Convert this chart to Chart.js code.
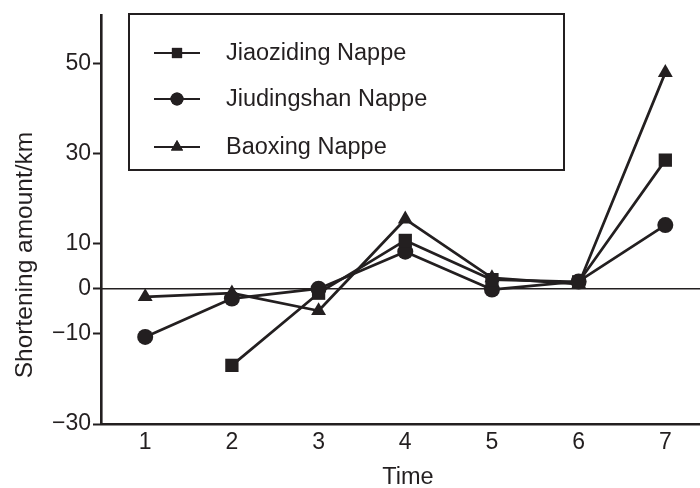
<!DOCTYPE html>
<html>
<head>
<meta charset="utf-8">
<script src="https://cdn.jsdelivr.net/npm/chart.js@4.4.1/dist/chart.umd.min.js"></script>
<style>
  html, body { margin: 0; padding: 0; background: #fff; overflow: hidden; }
  canvas { display: block; }
</style>
</head>
<body>
<canvas id="c" width="700" height="488"></canvas>
<script>
const times = [1, 2, 3, 4, 5, 6, 7];
const jiaozidingLabel = 'Jiaoziding Nappe';
const jiaozidingValues = [null, -17, -1, 10.7, 2, 1.5, 28.5];
const jiudingshanLabel = 'Jiudingshan Nappe';
const jiudingshanValues = [-10.7, -2.2, 0, 8.2, -0.2, 1.6, 14.1];
const baoxingLabel = 'Baoxing Nappe';
const baoxingValues = [-1.8, -1, -4.9, 15.4, 2.4, 1, 47.9];
const yTickValues = [-30, -10, 0, 10, 30, 50];
const xTickValues = [1, 2, 3, 4, 5, 6, 7];
const xTitle = 'Time';
const yTitle = 'Shortening amount/km';

const INK = '#231f20';
const FONT = "'Liberation Sans', Arial, sans-serif";

function pts(vals) {
  return times.map((t, i) => ({ x: t, y: vals[i] })).filter(p => p.y !== null);
}

const series = [
  { label: jiaozidingLabel, data: pts(jiaozidingValues), pointStyle: 'rect', pointRadius: 9.4, legendRadius: 7.2 },
  { label: jiudingshanLabel, data: pts(jiudingshanValues), pointStyle: 'circle', pointRadius: 8, legendRadius: 6.5 },
  { label: baoxingLabel, data: pts(baoxingValues), pointStyle: 'triangle', pointRadius: 8.6, legendRadius: 7 }
];

const zeroLine = {
  id: 'zeroLine',
  beforeDatasetsDraw(chart) {
    const { ctx, chartArea, scales } = chart;
    const y = scales.y.getPixelForValue(0);
    ctx.save();
    ctx.strokeStyle = INK;
    ctx.lineWidth = 1.6;
    ctx.beginPath();
    ctx.moveTo(chartArea.left, y);
    ctx.lineTo(chartArea.right, y);
    ctx.stroke();
    ctx.restore();
  }
};

const titles = {
  id: 'titles',
  afterDraw(chart) {
    const { ctx } = chart;
    ctx.save();
    ctx.fillStyle = INK;
    ctx.textAlign = 'center';
    ctx.textBaseline = 'middle';
    ctx.font = '24.5px ' + FONT;
    ctx.translate(25, 255);
    ctx.rotate(-Math.PI / 2);
    ctx.fillText(yTitle, 0, 0);
    ctx.restore();
    ctx.save();
    ctx.fillStyle = INK;
    ctx.textAlign = 'center';
    ctx.textBaseline = 'middle';
    ctx.font = '23.5px ' + FONT;
    ctx.fillText(xTitle, 408, 478);
    ctx.restore();
  }
};

const boxLegend = {
  id: 'boxLegend',
  afterDraw(chart) {
    const { ctx } = chart;
    const bx = 129, by = 14, bw = 435, bh = 156;
    ctx.save();
    ctx.fillStyle = '#fff';
    ctx.fillRect(bx, by, bw, bh);
    ctx.strokeStyle = INK;
    ctx.lineWidth = 2;
    ctx.strokeRect(bx, by, bw, bh);
    const rows = [53, 99, 147];
    series.forEach((s, i) => {
      const y = rows[i];
      ctx.strokeStyle = INK;
      ctx.lineWidth = 2.2;
      ctx.beginPath();
      ctx.moveTo(154, y);
      ctx.lineTo(200, y);
      ctx.stroke();
      ctx.fillStyle = INK;
      Chart.helpers.drawPoint(ctx, { pointStyle: s.pointStyle, radius: s.legendRadius, rotation: 0, borderWidth: 0 }, 177, y);
      ctx.fill();
      ctx.fillStyle = INK;
      ctx.font = '23.5px ' + FONT;
      ctx.textBaseline = 'middle';
      ctx.textAlign = 'left';
      ctx.fillText(s.label, 226, y + 1);
    });
    ctx.restore();
  }
};

new Chart(document.getElementById('c'), {
  type: 'line',
  data: {
    datasets: series.map(s => ({
      label: s.label,
      data: s.data,
      borderColor: INK,
      backgroundColor: INK,
      borderWidth: 2.7,
      pointStyle: s.pointStyle,
      pointRadius: s.pointRadius,
      pointHoverRadius: s.pointRadius,
      pointBorderWidth: 0,
      pointBackgroundColor: INK,
      tension: 0,
      clip: false
    }))
  },
  options: {
    responsive: false,
    animation: false,
    layout: { autoPadding: false, padding: { top: 14, right: 0, left: 0, bottom: 0 } },
    plugins: { legend: { display: false }, tooltip: { enabled: false } },
    elements: { line: { borderCapStyle: 'round', borderJoinStyle: 'round' } },
    scales: {
      x: {
        type: 'linear',
        min: 0.49,
        max: 7.4,
        afterBuildTicks(scale) { scale.ticks = xTickValues.map(v => ({ value: v })); },
        afterFit(scale) { scale.height = 64; },
        grid: { display: true, drawOnChartArea: false, drawTicks: false },
        border: { display: true, color: INK, width: 2.6 },
        ticks: {
          color: INK, font: { family: FONT, size: 23 }, padding: 5,
          maxRotation: 0, autoSkip: false,
          callback: v => String(v)
        },
        title: { display: false }
      },
      y: {
        type: 'linear',
        min: -30,
        max: 60.5,
        afterBuildTicks(scale) { scale.ticks = yTickValues.map(v => ({ value: v })); },
        afterFit(scale) { scale.width = 101; },
        grid: { display: true, drawOnChartArea: false, drawTicks: true, tickLength: 8, tickWidth: 2, tickColor: INK },
        border: { display: true, color: INK, width: 2.6 },
        ticks: {
          color: INK, font: { family: FONT, size: 23 }, padding: 2,
          autoSkip: false,
          callback: v => (v < 0 ? '\u2212' + Math.abs(v) : String(v))
        },
        title: { display: false }
      }
    }
  },
  plugins: [zeroLine, titles, boxLegend]
});
</script>
</body>
</html>
